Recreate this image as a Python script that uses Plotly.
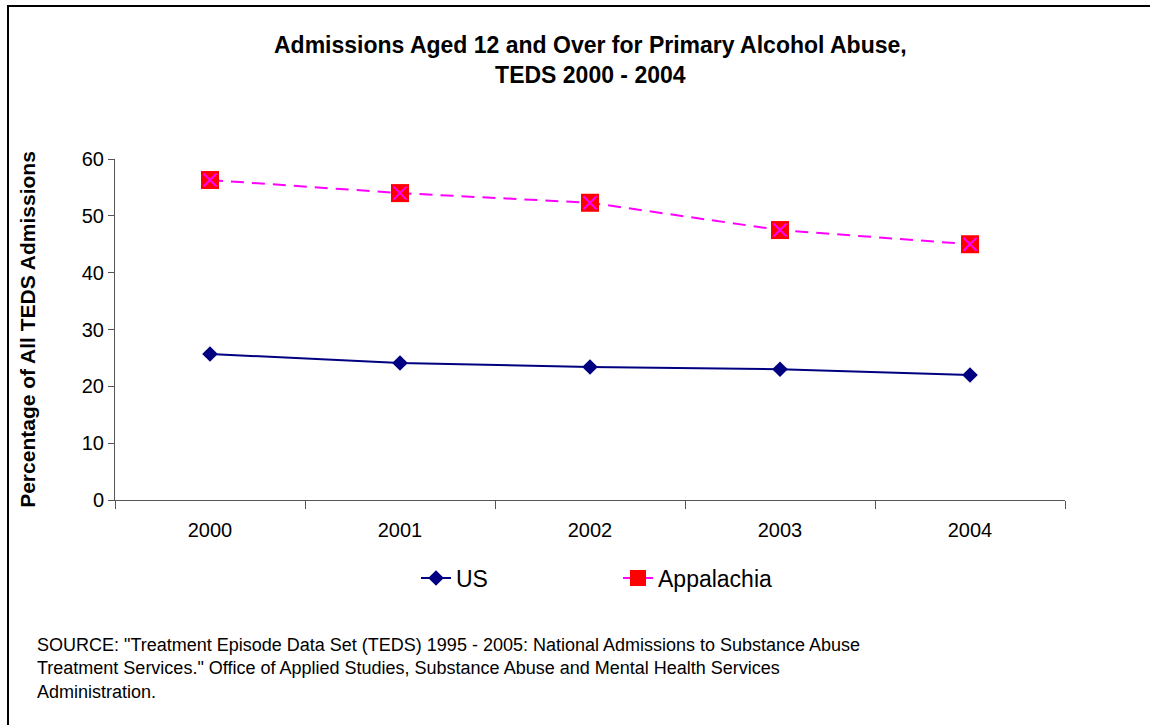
import plotly.graph_objects as go

years = ["2000", "2001", "2002", "2003", "2004"]
us = [25.7, 24.1, 23.4, 23.0, 22.0]
appalachia = [56.3, 54.0, 52.3, 47.5, 45.0]
yticks = [0, 10, 20, 30, 40, 50, 60]

FONT = "Liberation Sans, Arial, sans-serif"

fig = go.Figure()
fig.add_trace(go.Scatter(
    x=years, y=us, name="US", mode="lines+markers",
    line=dict(color="#000080", width=2),
    marker=dict(symbol="diamond", size=12, color="#000080"),
))
fig.add_trace(go.Scatter(
    x=years, y=appalachia, name="Appalachia", mode="lines+markers",
    line=dict(color="#FF00FF", width=2, dash="13px,8px"),
    marker=dict(symbol="square", size=18, color="#FF0000", line=dict(width=0)),
))
fig.add_trace(go.Scatter(
    x=years, y=appalachia, name="Appalachia", mode="markers", showlegend=False,
    marker=dict(symbol="x-thin", size=13, color="#FF00FF",
                line=dict(color="#FF00FF", width=2)),
))

fig.update_layout(
    width=1150, height=725,
    margin=dict(l=115, r=85, t=159, b=225),
    paper_bgcolor="white", plot_bgcolor="white",
    font=dict(family=FONT, color="black", size=19),
    showlegend=True,
    legend=dict(orientation="h", x=(416 - 115) / 950, xanchor="left",
                y=-(578 - 500) / 341, yanchor="middle",
                font=dict(size=23, family=FONT), entrywidth=157,
                bgcolor="rgba(0,0,0,0)"),
    xaxis=dict(type="category", tickson="boundaries", ticks="outside", ticklen=8,
               tickcolor="#555", showline=True, linecolor="#555", linewidth=1,
               showgrid=False, zeroline=False, range=[-0.5, 4.5],
               ticklabelstandoff=12,
               tickfont=dict(size=20, family=FONT)),
    yaxis=dict(range=[0, 60], tickvals=yticks, ticks="outside", ticklen=6,
               tickcolor="#555", showline=True, linecolor="#555", linewidth=1,
               showgrid=False, zeroline=False,
               tickfont=dict(size=20, family=FONT),
               title=dict(text="<b>Percentage of All TEDS Admissions</b>",
                          font=dict(size=21, family=FONT), standoff=40)),
)

fig.add_annotation(
    text="<b>Admissions Aged 12 and Over for Primary Alcohol Abuse,</b><br><b>TEDS 2000 - 2004</b>",
    xref="paper", yref="paper", x=0.5, y=1 + (159 - 60) / 341, xanchor="center", yanchor="middle",
    showarrow=False, font=dict(size=23, family=FONT), align="center",
)
fig.add_annotation(
    text=("SOURCE: \"Treatment Episode Data Set (TEDS) 1995 - 2005: National Admissions to Substance Abuse<br>"
          "Treatment Services.\" Office of Applied Studies, Substance Abuse and Mental Health Services<br>"
          "Administration."),
    xref="paper", yref="paper", x=(35 - 115) / 950, y=-(633 - 500) / 341,
    xanchor="left", yanchor="top", showarrow=False, align="left",
    font=dict(size=18, family=FONT),
)
fig.add_shape(type="rect", xref="paper", yref="paper",
              x0=(8 - 115) / 950, x1=(1160 - 115) / 950,
              y0=-(740 - 500) / 341, y1=(500 - 6) / 341,
              line=dict(color="black", width=2), layer="below")

fig.write_html("out.html")
